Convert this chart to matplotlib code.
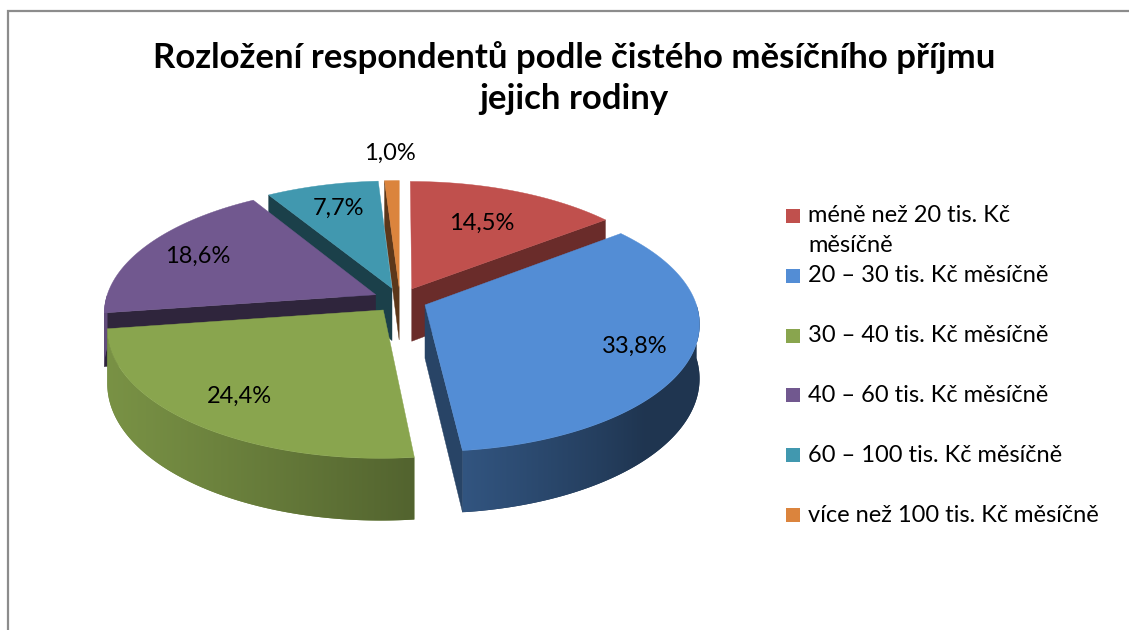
import numpy as np
import matplotlib
matplotlib.use('Agg')
import matplotlib.pyplot as plt
from matplotlib.patches import Polygon
import matplotlib.colors as mcolors

# ---------------- data ----------------
title = 'Rozložení respondentů podle čistého měsíčního příjmu\njejich rodiny'
categories = ['méně než 20 tis. Kč\nměsíčně',
              '20 – 30 tis. Kč měsíčně',
              '30 – 40 tis. Kč měsíčně',
              '40 – 60 tis. Kč měsíčně',
              '60 – 100 tis. Kč měsíčně',
              'více než 100 tis. Kč měsíčně']
values = [14.5, 33.8, 24.4, 18.6, 7.7, 1.0]
value_labels = [f'{v:.1f}%'.replace('.', ',') for v in values]
colors = ['#C0504D', '#538DD5', '#89A54E', '#71588F', '#4198AF', '#DB843D']
label_radius = [0.65, 0.80, 0.78, 0.77, 0.75, 1.30]

# ---------------- layout ----------------
W, H = 1129, 630
fig = plt.figure(figsize=(W / 100, H / 100), dpi=100)
ax = fig.add_axes([0, 0, 1, 1])
ax.set_xlim(0, W)
ax.set_ylim(H, 0)
ax.axis('off')

FONT = 'Lato'
cx, cy = 400, 300          # projected centre of the pie top
R = 270                    # radius (px at mid depth)
k = 0.463                  # vertical squash (tilt)
D = 7.29 * R               # perspective distance
depth = 53                 # pie thickness
explode = 0.10 * R


def proj(X, Z, h=0.0):
    p = D / (D + Z)
    return cx + X * p, cy - k * Z * p + h * p


def shade(c, f):
    r, g, b = mcolors.to_rgb(c)
    return (min(r * f, 1), min(g * f, 1), min(b * f, 1))


def wall_factor(th):
    return np.clip(0.55 + 0.33 * np.cos(np.radians(th - 255)), 0.38, 0.9)


total = sum(values)
angles = np.concatenate([[0], np.cumsum(values) / total * 360.0])
mids = (angles[:-1] + angles[1:]) / 2
order = np.argsort(-np.cos(np.radians(mids)))  # back slices first

z = 1.0
for i in order:
    t1, t2 = angles[i], angles[i + 1]
    m = np.radians(mids[i])
    ox, oz = explode * np.sin(m), explode * np.cos(m)
    col = colors[i]

    def rim(th, h=0.0):
        r = np.radians(th)
        return proj(ox + R * np.sin(r), oz + R * np.cos(r), h)

    apex_t = proj(ox, oz, 0)
    apex_b = proj(ox, oz, depth)

    # radial walls
    if np.sin(np.radians(t1)) < -1e-6:
        f = 0.55 if i == 0 else 0.42
        poly = [apex_t, rim(t1), rim(t1, depth), apex_b]
        ax.add_patch(Polygon(poly, closed=True, fc=shade(col, f), ec=shade(col, f),
                             lw=0.3, zorder=z)); z += 0.01
    if np.sin(np.radians(t2)) > 1e-6:
        f = 0.55 if i == 0 else 0.48
        poly = [apex_t, rim(t2), rim(t2, depth), apex_b]
        ax.add_patch(Polygon(poly, closed=True, fc=shade(col, f), ec=shade(col, f),
                             lw=0.3, zorder=z)); z += 0.01

    # outer (front) wall with smooth gradient
    a1, a2 = max(t1, 90.0), min(t2, 270.0)
    if a2 > a1:
        ths = np.linspace(a1, a2, max(3, int((a2 - a1) * 2)))
        top = [rim(t) for t in ths]
        bot = [rim(t, depth) for t in ths[::-1]]
        poly = top + bot
        base = Polygon(poly, closed=True, fc=shade(col, wall_factor((a1 + a2) / 2)),
                       ec='none', zorder=z); z += 0.01
        ax.add_patch(base)
        xs = np.array([p[0] for p in top])
        fs = wall_factor(ths)
        srt = np.argsort(xs)
        xmin, xmax = xs.min(), xs.max()
        ys = [p[1] for p in poly]
        gx = np.linspace(xmin, xmax, 400)
        gf = np.interp(gx, xs[srt], fs[srt])
        rgb = np.array(mcolors.to_rgb(col))
        img = np.clip(gf[None, :, None] * rgb[None, None, :], 0, 1)
        im = ax.imshow(img, extent=[xmin, xmax, max(ys), min(ys)], aspect='auto',
                       interpolation='bilinear', zorder=z); z += 0.01
        im.set_clip_path(base)

    # top face
    ths = np.linspace(t1, t2, max(3, int((t2 - t1) * 2)))
    poly = [apex_t] + [rim(t) for t in ths]
    ax.add_patch(Polygon(poly, closed=True, fc=col, ec=col, lw=0.3, zorder=z)); z += 0.01

ax.set_xlim(0, W)
ax.set_ylim(H, 0)

# value labels
for i in range(len(values)):
    m = np.radians(mids[i])
    ox, oz = explode * np.sin(m), explode * np.cos(m)
    rr = label_radius[i] * R
    x, y = proj(ox + rr * np.sin(m), oz + rr * np.cos(m))
    ax.text(x, y, value_labels[i], ha='center', va='center', fontsize=17,
            family=FONT, color='black', zorder=10)

# title
ax.text(574, 78, title, ha='center', va='center', fontsize=25, family=FONT,
        fontweight='bold', linespacing=1.38, zorder=10)

# legend
lx, ly0, dy = 786, 216, 59.8
for i, lab in enumerate(categories):
    y = ly0 + i * dy
    ax.add_patch(plt.Rectangle((lx, y - 7), 14, 14, fc=colors[i], ec='none', zorder=10))
    if '\n' in lab:
        ax.text(808, y - 11, lab, ha='left', va='top', fontsize=17, family=FONT,
                linespacing=1.5, zorder=10)
    else:
        ax.text(808, y, lab, ha='left', va='center', fontsize=17, family=FONT, zorder=10)

# chart frame (partially visible)
ax.plot([7.5, 7.5, W + 5], [H + 5, 10.5, 10.5], color='#8C8C8C', lw=1.6,
        solid_joinstyle='miter', clip_on=False, zorder=10)

fig.savefig('out.png', dpi=100)
